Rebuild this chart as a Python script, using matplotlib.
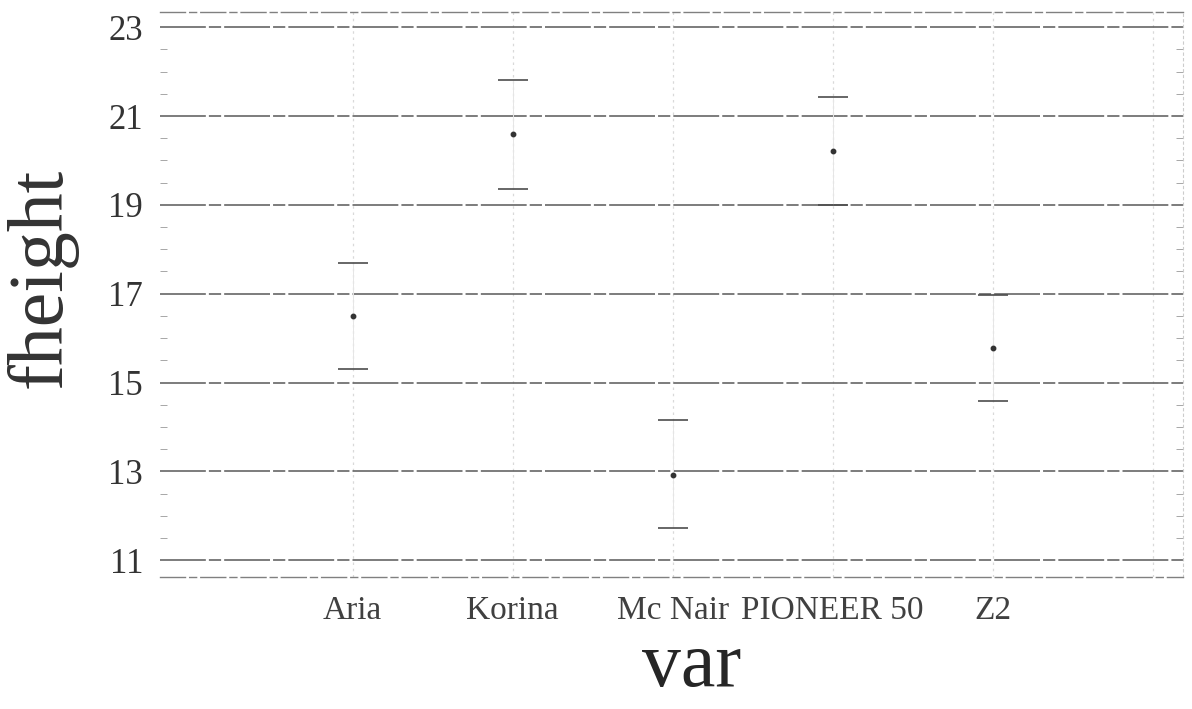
import matplotlib

matplotlib.use("Agg")

import matplotlib.pyplot as plt
from matplotlib.ticker import MultipleLocator

varieties = ["Aria", "Korina", "Mc Nair", "PIONEER 50", "Z2"]
means = [16.5, 20.6, 12.93, 20.22, 15.78]
upper = [17.7, 21.82, 14.15, 21.42, 16.98]
lower = [15.3, 19.36, 11.72, 19.0, 14.58]
y_ticks = [11, 13, 15, 17, 19, 21, 23]

SERIF = ["Liberation Serif", "DejaVu Serif"]


def main():
    plt.rcParams["font.family"] = SERIF
    fig = plt.figure(figsize=(11.92, 7.09), dpi=100)
    ax = fig.add_axes([0.134, 0.186, 0.8585, 0.797])

    x = list(range(len(varieties)))
    err_lo = [m - lo for m, lo in zip(means, lower)]
    err_hi = [hi - m for m, hi in zip(means, upper)]

    # faint vertical guides at each category slot (plus one spare on the right)
    for xi in range(len(varieties) + 1):
        ax.axvline(xi, color="0.85", linewidth=0.9, linestyle=(0, (2, 3)), zorder=1)

    for yt in y_ticks:
        ax.axhline(yt, color="0.35", linewidth=1.1,
                   linestyle=(0, (30, 2, 8, 2)), zorder=1)

    ax.errorbar(x, means, yerr=[err_lo, err_hi], fmt="o", color="0.2",
                markersize=3.2, ecolor="0.9", elinewidth=0.7,
                capsize=0, zorder=3)
    # short dark caps at the interval ends
    ax.scatter(x, upper, marker="_", s=470, color="0.3", linewidth=1.2, zorder=4)
    ax.scatter(x, lower, marker="_", s=470, color="0.3", linewidth=1.2, zorder=4)

    ax.set_xlim(-1.206, 5.19)
    ax.set_ylim(10.62, 23.34)
    ax.set_xticks(range(len(varieties) + 1))
    ax.set_xticklabels(varieties + [""])
    ax.set_yticks(y_ticks)
    ax.yaxis.set_minor_locator(MultipleLocator(0.5))

    ax.tick_params(axis="x", length=0, pad=13, labelsize=24, labelcolor="0.25")
    ax.tick_params(axis="y", which="major", length=0, pad=12, labelsize=25,
                   labelcolor="0.2")
    ax.tick_params(axis="y", which="minor", direction="in", length=5,
                   color="0.6", right=True, left=True)

    for side in ("top", "bottom"):
        ax.spines[side].set_color("0.5")
        ax.spines[side].set_linestyle((0, (18, 3, 5, 3)))
        ax.spines[side].set_linewidth(1.0)
    ax.spines["left"].set_visible(False)
    ax.spines["right"].set_color("0.8")
    ax.spines["right"].set_linestyle((0, (2, 3)))

    ax.set_xlabel("var", fontsize=56, color="0.15")
    ax.xaxis.label.set_va("center")
    ax.xaxis.set_label_coords(0.52, -0.16)
    ax.set_ylabel("fheight", fontsize=56, color="0.2")
    ax.yaxis.label.set_va("center")
    ax.yaxis.set_label_coords(-0.115, 0.53)

    fig.savefig("out.png", dpi=100)
    plt.close(fig)


if __name__ == "__main__":
    main()
